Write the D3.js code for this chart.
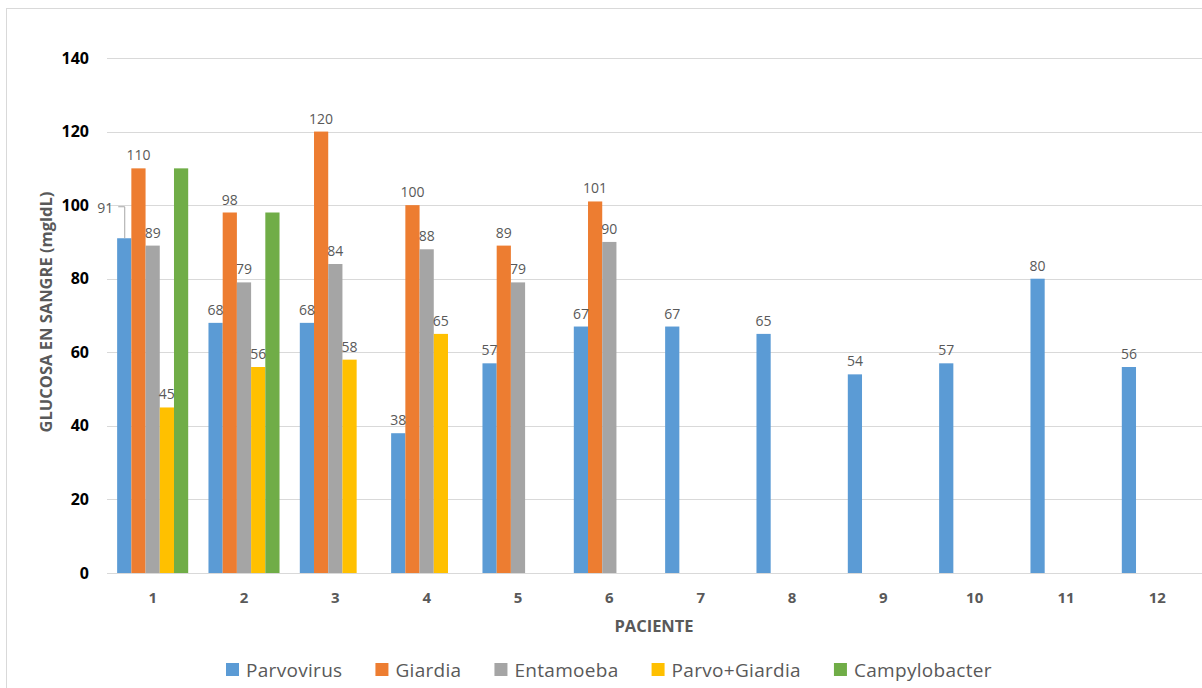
<!DOCTYPE html>
<head>
<meta charset="utf-8">
<style>
  body { margin:0; background:#fff; }
  text { font-family:"Open Sans", "DejaVu Sans", sans-serif; }
  .grid line { stroke:#d9d9d9; stroke-width:1; }
  .lbl { fill:#595959; font-size:14px; }
</style>
</head>
<body>
<script src="https://cdnjs.cloudflare.com/ajax/libs/d3/7.8.5/d3.min.js"></script>
<script>

var width = 1202,
    height = 688;

// data
var pacientes = ["1","2","3","4","5","6","7","8","9","10","11","12"];
var series = ["Parvovirus","Giardia","Entamoeba","Parvo+Giardia","Campylobacter"];
var parvovirus   = [91, 68, 68, 38, 57, 67, 67, 65, 54, 57, 80, 56];
var giardia      = [110, 98, 120, 100, 89, 101, null, null, null, null, null, null];
var entamoeba    = [89, 79, 84, 88, 79, 90, null, null, null, null, null, null];
var parvoGiardia = [45, 56, 58, 65, null, null, null, null, null, null, null, null];
var campylo      = [110, 98, null, null, null, null, null, null, null, null, null, null];
var yTicks = [0, 20, 40, 60, 80, 100, 120, 140];

var values = [parvovirus, giardia, entamoeba, parvoGiardia, campylo];
var colors = ["#5b9bd5", "#ed7d31", "#a5a5a5", "#ffc000", "#70ad47"];
var showLabels = [true, true, true, true, false];

var x = d3.scaleBand()
    .domain(pacientes)
    .range([107, 1203]);

var groupW = x.bandwidth() * 0.778;
var xs = d3.scaleBand()
    .domain(series)
    .range([0, groupW]);

var y = d3.scaleLinear()
    .domain([0, 140])
    .range([573, 58]);

var svg = d3.select("body").append("svg")
    .attr("width", width)
    .attr("height", height);

// chart frame
svg.append("rect")
    .attr("x", 6.5).attr("y", 8.5)
    .attr("width", 1210).attr("height", 700)
    .style("fill", "none")
    .style("stroke", "#d9d9d9");

// gridlines
svg.append("g").attr("class", "grid")
  .selectAll("line")
  .data(yTicks).enter()
  .append("line")
    .attr("x1", x.range()[0]).attr("x2", x.range()[1])
    .attr("y1", function(d) { return Math.round(y(d)) + 0.5; })
    .attr("y2", function(d) { return Math.round(y(d)) + 0.5; });

// y axis labels
svg.append("g")
  .selectAll("text")
  .data(yTicks).enter()
  .append("text")
    .attr("x", 89)
    .attr("y", function(d) { return y(d); })
    .attr("dy", "0.35em")
    .attr("text-anchor", "end")
    .style("font-size", "16px")
    .style("font-weight", "bold")
    .style("fill", "#000")
    .text(function(d) { return d; });

// x axis labels
svg.append("g")
  .selectAll("text")
  .data(pacientes).enter()
  .append("text")
    .attr("x", function(d) { return x(d) + x.bandwidth() / 2; })
    .attr("y", 598)
    .attr("dy", "0.35em")
    .attr("text-anchor", "middle")
    .style("font-size", "15px")
    .style("font-weight", "bold")
    .style("fill", "#595959")
    .text(function(d) { return d; });

// axis titles
svg.append("text")
    .attr("x", 654).attr("y", 626)
    .attr("dy", "0.35em")
    .attr("text-anchor", "middle")
    .style("font-size", "16.5px")
    .style("font-weight", "bold")
    .style("fill", "#595959")
    .text("PACIENTE");

svg.append("text")
    .attr("transform", "translate(46,312) rotate(-90)")
    .attr("dy", "0.35em")
    .attr("text-anchor", "middle")
    .style("font-size", "16.5px")
    .style("font-weight", "bold")
    .style("fill", "#595959")
    .text("GLUCOSA EN SANGRE (mgldL)");

// flatten to bar records
var bars = [];
series.forEach(function(s, i) {
  values[i].forEach(function(v, j) {
    if (v != null) bars.push({ serie: s, si: i, cat: pacientes[j], ci: j, value: v });
  });
});

var offset0 = (x.bandwidth() - groupW) / 2;
function bx(d) { return x(d.cat) + offset0 + xs(d.serie); }

svg.append("g")
  .selectAll("rect")
  .data(bars).enter()
  .append("rect")
    .attr("x", bx)
    .attr("y", function(d) { return y(d.value); })
    .attr("width", xs.bandwidth())
    .attr("height", function(d) { return y(0) - y(d.value); })
    .style("fill", function(d) { return colors[d.si]; });

// the 91 label was dragged aside in the original, with a leader line
var moved = { "Parvovirus-0": [-19, -30] };

var lab = svg.append("g");
bars.filter(function(d) { return showLabels[d.si]; }).forEach(function(d) {
  var cx = bx(d) + xs.bandwidth() / 2,
      top = y(d.value),
      m = moved[d.serie + "-" + d.ci];
  if (m) {
    lab.append("path")
      .attr("d", "M" + (cx + m[0] + 13) + "," + (top + m[1] - 1.5) + "H" + (cx + 0.5) + "V" + top)
      .style("fill", "none")
      .style("stroke", "#a6a6a6");
    lab.append("text").attr("class", "lbl")
      .attr("x", cx + m[0]).attr("y", top + m[1])
      .attr("dy", "0.35em")
      .attr("text-anchor", "middle")
      .text(d.value);
  } else {
    lab.append("text").attr("class", "lbl")
      .attr("x", cx).attr("y", top - 8)
      .attr("text-anchor", "middle")
      .text(d.value);
  }
});

// legend
var legend = svg.append("g").attr("transform", "translate(226,670)");
var lx = 0;
series.forEach(function(s, i) {
  legend.append("rect")
    .attr("x", lx).attr("y", -7)
    .attr("width", 13).attr("height", 13)
    .style("fill", colors[i]);
  var t = legend.append("text")
    .attr("x", lx + 20).attr("y", 0)
    .attr("dy", "0.35em")
    .style("font-size", "19px")
    .style("letter-spacing", "0.3px")
    .style("fill", "#595959")
    .text(s);
  lx += 20 + t.node().getComputedTextLength() + 33;
});

</script>
</body>
